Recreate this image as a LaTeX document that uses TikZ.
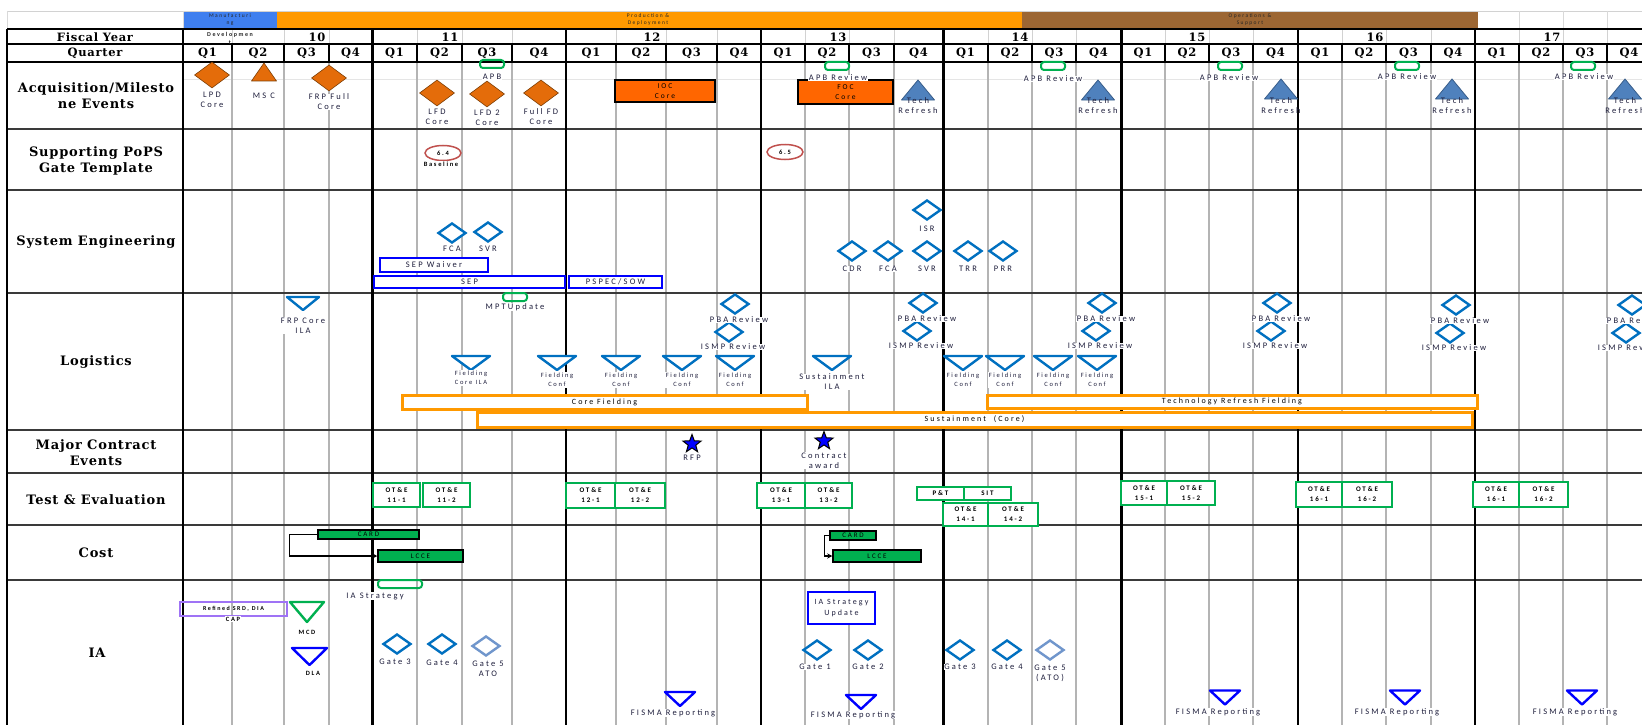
\documentclass[tikz,border=0pt]{standalone}
\usepackage{fontspec}
\usepackage{graphicx}
\usetikzlibrary{shapes.geometric,arrows.meta}
\newfontfamily\rowfnt[LetterSpace=6]{DejaVu Serif}
\newfontfamily\labfnt[LetterSpace=26]{Carlito}
\definecolor{phblue}{HTML}{3F7FEF}
\definecolor{phorange}{HTML}{FF9900}
\definecolor{phbrown}{HTML}{9C6633}
\definecolor{gridc}{HTML}{B4B4B4}
\definecolor{accor}{HTML}{E46C0A}
\definecolor{accdark}{HTML}{7F3F05}
\definecolor{bxor}{HTML}{FF6600}
\definecolor{techb}{HTML}{4F81BD}
\definecolor{techd}{HTML}{385D8A}
\definecolor{diab}{HTML}{0070C0}
\definecolor{gatefive}{HTML}{7096CC}
\definecolor{pureb}{HTML}{0000FF}
\definecolor{grn}{HTML}{00B050}
\definecolor{baror}{HTML}{FF9900}
\definecolor{redc}{HTML}{C0504D}
\definecolor{purp}{HTML}{9F73F5}
\definecolor{labc}{HTML}{1E1E3C}
\definecolor{rowline}{HTML}{3A3A3A}
\newcommand\uptri[5]{\path[#5] ({#1-#3/2},{#2+#4/2}) -- ({#1+#3/2},{#2+#4/2}) -- ({#1},{#2-#4/2}) -- cycle;}
\newcommand\dntri[5]{\path[#5] ({#1-#3/2},{#2-#4/2}) -- ({#1+#3/2},{#2-#4/2}) -- ({#1},{#2+#4/2}) -- cycle;}
\def\qlines{232,284,329,417,462,512,616,666,717,805,849,894,988,1032,1076,1165,1209,1253,1342,1386,1431,1519,1563,1607}
\begin{document}
\begin{tikzpicture}[x=1pt,y=-1pt,
  gq/.style={draw=gridc, line width=2},
  rowlab/.style={font=\rowfnt\bfseries\fontsize{13}{16}\selectfont, align=center, inner sep=0},
  hdr/.style={font=\rowfnt\bfseries\fontsize{11.5}{13}\selectfont, inner sep=0},
  phase/.style={font=\labfnt\fontsize{5.5}{7}\selectfont, align=center, inner sep=0, text=black!85},
  lab/.style={font=\labfnt\fontsize{8.5}{10}\selectfont, text=labc, fill=white, inner sep=0.5pt, align=center},
  labs/.style={lab, font=\labfnt\fontsize{6.5}{9.5}\selectfont},
  labk/.style={lab, font=\labfnt\bfseries\fontsize{6.5}{9}\selectfont, text=black},
  odia/.style={diamond, fill=accor, draw=accdark, line width=0.6, minimum width=35, minimum height=26, inner sep=0},
  bdia/.style={diamond, draw=diab, line width=2.4, fill=white, minimum width=28, minimum height=20, inner sep=0},
  fdia/.style={bdia, draw=gatefive},
  cal/.style={draw=grn, line width=2, rounded corners=3, minimum width=24, minimum height=8, inner sep=0},
  iocbox/.style={draw=black, line width=2.5, fill=bxor, align=center, font=\labfnt\fontsize{7.5}{10}\selectfont, inner sep=0},
  rell/.style={ellipse, draw=redc, line width=1.5, minimum width=36, minimum height=15, inner sep=0, font=\labfnt\bfseries\fontsize{6.5}{7}\selectfont},
  srect/.style={draw=pureb, line width=2.5, fill=white, inner sep=0, font=\labfnt\fontsize{8.5}{9}\selectfont, text=labc},
  obar/.style={draw=baror, line width=3, fill=white, inner sep=0, font=\labfnt\fontsize{8}{9}\selectfont, text=black},
  bstar/.style={star, star points=5, star point ratio=2.4, minimum size=19, fill=pureb, draw=black, line width=1, inner sep=0},
  tebox/.style={draw=grn, line width=2.5, fill=white, inner sep=0, align=center, font=\labfnt\bfseries\fontsize{7}{10}\selectfont},
  cbox/.style={draw=black, line width=1.5, fill=grn, inner sep=0, font=\labfnt\fontsize{7}{7}\selectfont, text=black},
  conn/.style={draw=black, line width=1.5, -{Stealth[length=5pt,width=5pt]}},
  techtri/.style={fill=techb, draw=techd, line width=0.8, line join=round},
  otri/.style={fill=accor, draw=accdark, line width=0.6, line join=round},
  dtri/.style={draw=diab, line width=2.4, fill=white, line join=round},
  ftri/.style={draw=pureb, line width=2.4, fill=white, line join=round},
  gtri/.style={draw=grn, line width=2.4, fill=white, line join=round}]
\clip (0,0) rectangle (1642,725);
\fill[white] (0,0) rectangle (1642,725);
% ---------------- phase row
\fill[phblue] (183,12) rectangle (277,29);
\fill[phorange] (277,12) rectangle (1022,29);
\fill[phbrown] (1022,12) rectangle (1478,29);
\draw[gray!35, line width=0.8] (7,11) -- (1642,11);
\foreach \x in {7,183,1519,1563,1607} \draw[gray!30, line width=0.8] (\x,11) -- (\x,29);
\draw[gray!20, line width=0.8] (183,79) -- (1642,79);
% ---------------- grid
\foreach \x in \qlines {\draw[gq] (\x,62) -- (\x,725); \draw[gray!35,line width=0.8] (\x,29) -- (\x,44); \draw[black,line width=1.4] (\x,44) -- (\x,62);}
\draw[black,line width=1.3] (7,29) -- (1642,29);
\draw[black,line width=1.3] (7,44) -- (1642,44);
\draw[black,line width=2.2] (7,62) -- (1642,62);
\foreach \y in {129,190,293,430,473,525,580} \draw[rowline,line width=1.4] (7,\y) -- (1642,\y);
\foreach \x in {566,761,1298,1475} \draw[black,line width=1.8] (\x,29) -- (\x,725);
\foreach \x in {372,943,1121} \draw[black,line width=3] (\x,29) -- (\x,725);
\draw[black,line width=1.5] (7,29) -- (7,725);
\draw[black,line width=1.5] (183,29) -- (183,725);
% ---------------- header texts
\node[phase] (ph1) at (230,20) {Manufacturi\\ng};
\node[phase] (ph2) at (648,19.5) {Production \&\\Deployment};
\node[phase] (ph3) at (1250,19.5) {Operations \&\\Support};
\node[phase, font=\labfnt\bfseries\fontsize{6}{8}\selectfont] (ph4) at (230,38) {Developmen\\t};
\node[hdr] (fy) at (95,37) {Fiscal Year};
\node[hdr] (qt) at (95,53) {Quarter};
\foreach \x/\t in {317/10,450/11,652/12,838/13,1020/14,1197/15,1375/16,1552/17}
  \node[hdr] (fy\t) at (\x,37) {\t};
\foreach \x/\q [count=\i] in {207.5/1,258/2,306.5/3,350.5/4,394.5/1,439.5/2,487/3,539/4,591/1,641/2,691.5/3,739/4,783/1,827/2,871.5/3,918.5/4,965.5/1,1010/2,1054/3,1098.5/4,1143/1,1187/2,1231/3,1275.5/4,1320/1,1364/2,1408.5/3,1453/4,1497/1,1541/2,1585/3,1629/4}
  \node[hdr] (q\i) at (\x,53) {Q\q};
% ---------------- row labels
\node[rowlab] (r1) at (96,96) {Acquisition/Milesto\\ne Events};
\node[rowlab] (r2) at (96,161) {Supporting PoPS\\Gate Template};
\node[rowlab] (r3) at (96,242) {System Engineering};
\node[rowlab] (r4) at (96,362) {Logistics};
\node[rowlab] (r5) at (96,453) {Major Contract\\Events};
\node[rowlab] (r6) at (96,500) {Test \& Evaluation};
\node[rowlab] (r7) at (96,553) {Cost};
\node[rowlab] (r8) at (97,653) {IA};
% ---------------- acquisition / milestone events
\node[odia] (lpd) at (212,75) {};
\node[lab] (lpdl) at (212,100) {LPD\\Core};
\uptri{264}{72}{25}{18}{otri}
\coordinate (msc) at (264,72);
\node[lab] (mscl) at (264,96) {MS C};
\node[odia] (frp) at (329,78) {};
\node[lab] (frpl) at (329,102) {FRP Full\\Core};
\node[odia] (lfd) at (437,93) {};
\node[lab] (lfdl) at (437,117) {LFD\\Core};
\node[odia] (lfd2) at (487,94) {};
\node[lab] (lfd2l) at (487,118) {LFD 2\\Core};
\node[odia] (ffd) at (541,93) {};
\node[lab] (ffdl) at (541,117) {Full FD\\Core};
\node[cal] (apb0) at (492,64) {};
\node[lab] (apb0l) at (492,77) {APB};
\node[iocbox, minimum width=100, minimum height=22] (ioc) at (665,91) {IOC\\Core};
\node[iocbox, minimum width=95, minimum height=24] (foc) at (845.5,92) {FOC\\Core};
\foreach \x/\lx/\ly [count=\i] in {837/838/78,1053/1053/79,1230/1229/78,1407/1407/77,1583/1584/77}{
  \node[cal] (apb\i) at (\x,66) {};
  \node[lab] (apbl\i) at (\lx,\ly) {APB Review};}
\foreach \x/\y [count=\i] in {918/90,1098/90,1281/89,1452/89,1625/89}{
  \uptri{\x}{\y}{33}{20}{techtri}
  \coordinate (tech\i) at (\x,\y);
  \node[lab, fill=none] (techl\i) at (\x,106) {Tech\\Refresh};}
% ---------------- PoPS gate template
\node[rell] (g64) at (443,153) {6.4};
\node[labk] (g64l) at (441,164) {Baseline};
\node[rell] (g65) at (785,152) {6.5};
% ---------------- system engineering
\node[bdia] (fca1) at (452,233) {};
\node[lab] (fca1l) at (452,249) {FCA};
\node[bdia] (svr1) at (488,232) {};
\node[lab] (svr1l) at (488,249) {SVR};
\node[srect, minimum width=108, minimum height=14] (sepw) at (434,265) {SEP Waiver};
\node[srect, minimum width=191, minimum height=12] (sep) at (469.5,282) {SEP};
\node[srect, minimum width=93, minimum height=12] (pspec) at (615.5,282) {PSPEC/SOW};
\node[bdia] (isr) at (927,210) {};
\node[lab] (isrl) at (927,229) {ISR};
\foreach \x/\t in {852/CDR,888/FCA,927/SVR,968/TRR,1003/PRR}{
  \node[bdia] (se\t) at (\x,251) {};
  \node[lab] (se\t l) at (\x,269) {\t};}
% ---------------- logistics
\dntri{303}{303.5}{32}{13}{dtri}
\coordinate (frpila) at (303,303.5);
\node[lab] (frpilal) at (303,325.5) {FRP Core\\ILA};
\node[cal] (mpt) at (515,297) {};
\node[lab] (mptl) at (515,307) {MPTUpdate};
\foreach \x/\y [count=\i] in {735/304,923/303,1102/303,1277/303,1456/305,1632/305}{
  \node[bdia] (pba\i) at (\x,\y) {};
  \node[bdia] (ismp\i) at (\x-6,\y+28) {};
  \node[lab] (pbal\i) at (\x+4,\y+16) {PBA Review};
  \node[lab] (ismpl\i) at (\x-2,\y+43) {ISMP Review};}
\dntri{471}{363}{38}{14}{dtri}
\coordinate (fld0) at (471,363);
\node[labs] (fld0l) at (471,378) {Fielding\\Core ILA};
\foreach \x [count=\i] in {557,621,682,735,963,1005,1053,1097}{
  \dntri{\x}{363}{38}{14}{dtri}
  \coordinate (fld\i) at (\x,363);
  \node[labs] (fldl\i) at (\x,380) {Fielding\\Conf};}
\dntri{832}{363}{38}{14}{dtri}
\coordinate (sus) at (832,363);
\node[lab] (susl) at (832,382) {Sustainment\\ILA};
\node[obar, minimum width=995, minimum height=15] (sustc) at (974.5,419.5) {Sustainment\ \ (Core)};
\node[obar, minimum width=405, minimum height=14] (coref) at (604.5,402) {Core Fielding};
\node[obar, minimum width=490, minimum height=13] (techf) at (1232,401.5) {Technology Refresh Fielding};
% ---------------- major contract events
\node[bstar] (rfp) at (692,444) {};
\node[lab] (rfpl) at (692,458) {RFP};
\node[bstar] (ctr) at (824,441) {};
\node[lab] (ctrl) at (824,460.5) {Contract\\award};
% ---------------- test & evaluation
\foreach \x/\w/\y/\h/\t [count=\i] in {396.5/47/495/24/11-1,446.5/47/495/24/11-2,590.5/49/495.5/25/12-1,640/50/495.5/25/12-2,781/48/495.5/25/13-1,828.5/47/495.5/25/13-2,965.5/45/514.5/23/14-1,1013/50/514.5/23/14-2,1144/46/493/24/15-1,1191/48/493/24/15-2,1319/46/494.5/25/16-1,1367/50/494.5/25/16-2,1496/46/494.5/25/16-1,1543.5/49/494.5/25/16-2}
  \node[tebox, minimum width=\w, minimum height=\h] (te\i) at (\x,\y) {OT\&E\\\t};
\node[tebox, minimum width=47, minimum height=13] (pqt) at (940.5,493.5) {P\&T};
\node[tebox, minimum width=47, minimum height=13] (sit) at (987.5,493.5) {SIT};
% ---------------- cost
\node[cbox, minimum width=101, minimum height=9] (card1) at (368.5,534.5) {CARD};
\node[cbox, minimum width=85, minimum height=12] (lcce1) at (420.5,556) {LCCE};
\draw[conn] (card1.west) -- ++(-28,0) |- (lcce1.west);
\node[cbox, minimum width=46, minimum height=9] (card2) at (853,535.5) {CARD};
\node[cbox, minimum width=88, minimum height=12] (lcce2) at (877,556) {LCCE};
\draw[conn] (card2.west) -- ++(-5,0) |- (lcce2.west);
% ---------------- IA
\node[cal, minimum width=44] (iastr) at (400,584) {};
\node[lab] (iastrl) at (375,596) {IA Strategy};
\node[draw=purp, line width=2.5, minimum width=107, minimum height=14, inner sep=0, font=\labfnt\bfseries\fontsize{6}{7}\selectfont] (srd) at (233.5,609) {Refined SRD, DIA};
\node[labk] (srdl) at (233,619) {CAP};
\dntri{307}{612}{34}{20}{gtri}
\coordinate (mcd) at (307,612);
\node[labk] (mcdl) at (307,632) {MCD};
\dntri{309.5}{656.5}{35}{17}{ftri}
\coordinate (dla) at (309.5,656.5);
\node[labk] (dlal) at (313,673) {DLA};
\node[bdia] (ga3) at (397,644) {};
\node[lab] (ga3l) at (395,662) {Gate 3};
\node[bdia] (ga4) at (442,644) {};
\node[lab] (ga4l) at (442,663) {Gate 4};
\node[fdia] (ga5) at (486,646) {};
\node[lab] (ga5l) at (488,668.5) {Gate 5\\ATO};
\node[srect, minimum width=67, minimum height=32, align=center, font=\labfnt\fontsize{8}{11}\selectfont] (iasu) at (841.5,608) {IA Strategy\\Update};
\node[bdia] (gb1) at (817,650) {};
\node[lab] (gb1l) at (815,667) {Gate 1};
\node[bdia] (gb2) at (868,650) {};
\node[lab] (gb2l) at (868,667) {Gate 2};
\node[bdia] (gb3) at (960,650) {};
\node[lab] (gb3l) at (960,667) {Gate 3};
\node[bdia] (gb4) at (1007,650) {};
\node[lab] (gb4l) at (1007,667) {Gate 4};
\node[fdia] (gb5) at (1050,650) {};
\node[lab] (gb5l) at (1050,673) {Gate 5\\(ATO)};
\foreach \x/\y/\lx/\ly [count=\i] in {680/699/673/713,861/702/853/715,1225/697.5/1218/712,1405/697.5/1397/712,1582/697.5/1575/712}{
  \dntri{\x}{\y}{30}{14}{ftri}
  \coordinate (fisma\i) at (\x,\y);
  \node[lab] (fismal\i) at (\lx,\ly) {FISMA Reporting};}
\end{tikzpicture}
\end{document}
